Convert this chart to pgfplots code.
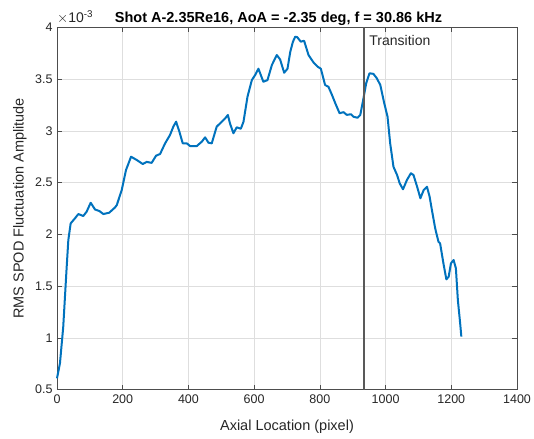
\documentclass[border=0pt]{standalone}
\usepackage{pgfplots}
\pgfplotsset{compat=1.18}
\usepackage{fontspec}
\setmainfont{Liberation Sans}
\definecolor{mblue}{HTML}{0072BD}
\definecolor{axgray}{HTML}{4D4D4D}
\begin{document}
\begin{tikzpicture}
\path[use as bounding box] (-57bp,-49.4bp) rectangle (477bp,389.6bp);
\begin{axis}[
  at={(0,0)}, anchor=south west,
  scale only axis, width=460bp, height=362.3bp,
  xmin=0, xmax=1400, ymin=0.5, ymax=4,
  xtick={0,200,...,1400}, ytick={0.5,1,...,4},
  scaled ticks=false,
  /pgf/number format/assume math mode=true,
  /pgf/number format/.cd, 1000 sep={}, /pgfplots/.cd,
  tick label style={font=\fontsize{12.5bp}{14bp}\selectfont, text=black!85},
  yticklabel style={/pgf/number format/fixed, xshift=-1bp},
  xticklabel style={yshift=-2bp},
  tick align=inside, major tick length=5bp,
  axis line style={axgray, line width=0.6bp},
  every tick/.style={axgray, line width=0.6bp},
  grid=major, major grid style={black!13, line width=0.5bp},
  xlabel={Axial Location (pixel)},
  ylabel={RMS SPOD Fluctuation Amplitude},
  label style={font=\fontsize{14.5bp}{16bp}\selectfont, text=black!85},
  xlabel style={at={(axis description cs:0.5,0)}, anchor=center, yshift=-37bp},
  ylabel style={at={(axis description cs:0,0.5)}, anchor=center, yshift=37bp},
  clip=false,
]
\addplot[color=mblue, line width=2bp, line join=round] table {
x y
0 0.609
9 0.754
19 1.107
29.5 1.687
34.5 1.945
41.6 2.106
54.8 2.155
65 2.196
80 2.177
90 2.218
102.6 2.305
115.7 2.24
129 2.225
141 2.196
159 2.209
176.7 2.26
182 2.283
197 2.428
210 2.621
225.4 2.75
242.7 2.718
261 2.679
273 2.70
288 2.69
301.6 2.76
313.7 2.776
329 2.879
344 2.96
354 3.04
362.5 3.088
372.6 2.99
382.7 2.879
395 2.879
405 2.853
425.5 2.853
440.7 2.895
450.8 2.937
461 2.885
471 2.879
486 3.04
501.6 3.088
511.7 3.12
520 3.153
527 3.066
537 2.976
547 3.034
559.5 3.02
567.6 3.088
579.8 3.33
593 3.49
603 3.539
613 3.60
628 3.474
640.6 3.49
654 3.636
669 3.732
679 3.69
691.4 3.561
701.5 3.60
710 3.764
718 3.86
725 3.909
731 3.905
742 3.861
752 3.87
765.5 3.732
781 3.659
793 3.62
803 3.60
816 3.442
826 3.426
837 3.346
847 3.266
860 3.17
872 3.18
882 3.154
894.5 3.16
902.6 3.136
914.8 3.126
923 3.154
931 3.284
941 3.459
951 3.556
963 3.55
973.5 3.507
984 3.442
996 3.266
1006 3.136
1014 2.879
1024 2.653
1035 2.573
1043 2.493
1053 2.435
1065 2.525
1077 2.59
1085 2.573
1096 2.46
1106 2.348
1116 2.428
1126 2.46
1134 2.364
1141 2.235
1151 2.058
1161 1.928
1166 1.912
1177 1.703
1185 1.565
1192 1.59
1199 1.72
1207 1.752
1214 1.672
1220 1.365
1227 1.14
1230.6 1.012
};
\addplot[color=black!65, line width=2bp] coordinates {(933,0.5) (933,4)};
\node[anchor=west, font=\fontsize{14bp}{16bp}\selectfont, text=black!85] at (axis cs:940,3.875) {Transition};
\node[anchor=south west, inner sep=0pt, font=\fontsize{14bp}{16bp}\selectfont, text=black!85] at (rel axis cs:0,1) [yshift=3bp] {$\times$10\textsuperscript{-3}};
\node[anchor=base, inner sep=0pt, font=\bfseries\fontsize{14.5bp}{16bp}\selectfont, text=black] at (rel axis cs:0.4815,1) [yshift=5bp] {Shot A-2.35Re16, AoA = -2.35 deg, f = 30.86 kHz};
\end{axis}
\end{tikzpicture}
\end{document}
